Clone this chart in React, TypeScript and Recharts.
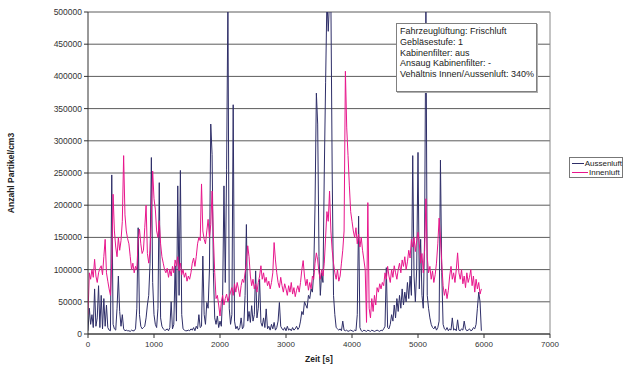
import { LineChart, Line, XAxis, YAxis, CartesianGrid, Legend, Label, ReferenceLine } from "recharts";

// sample spacing of the readings in seconds
const STEP = 20;

// particle counts in thousands per cm3, every 20 s
const aussenluftK = [
  5, 40, 15, 30, 10, 70, 12, 25, 75, 10,
  60, 8, 55, 12, 45, 10, 6, 5, 247, 15,
  8, 6, 40, 90, 35, 12, 30, 8, 5, 6,
  5, 5, 4, 6, 5, 5, 8, 40, 165, 30,
  12, 8, 10, 12, 25, 45, 60, 110, 274, 80,
  30, 15, 10, 40, 235, 25, 12, 8, 6, 6,
  8, 5, 10, 50, 8, 15, 106, 20, 230, 60,
  254, 30, 8, 6, 5, 5, 6, 5, 8, 6,
  10, 5, 12, 8, 30, 10, 12, 121, 30, 15,
  49, 40, 100, 326, 279, 95, 25, 15, 28, 10,
  20, 12, 60, 230, 80, 256, 520, 40, 15, 30,
  356, 20, 8, 12, 6, 10, 25, 8, 12, 60,
  170, 20, 35, 18, 44, 20, 30, 98, 25, 40,
  85, 18, 12, 25, 10, 39, 8, 12, 6, 15,
  8, 18, 6, 10, 20, 49, 12, 8, 6, 10,
  5, 12, 6, 8, 5, 10, 6, 8, 12, 7,
  10, 20, 35, 30, 50, 45, 40, 60, 55, 70,
  65, 95, 200, 374, 326, 120, 60, 95, 80, 250,
  390, 520, 470, 520, 520, 250, 60, 30, 10, 8,
  6, 8, 5, 20, 6, 5, 6, 4, 5, 6,
  5, 4, 6, 5, 30, 183, 10, 5, 4, 6,
  5, 4, 6, 5, 4, 6, 5, 4, 5, 6,
  5, 4, 6, 5, 8, 12, 103, 10, 8, 15,
  30, 20, 45, 25, 55, 35, 60, 40, 70, 45,
  65, 50, 80, 55, 90, 60, 277, 90, 50, 100,
  282, 70, 147, 60, 40, 150, 520, 60, 40, 25,
  15, 10, 8, 12, 6, 10, 20, 270, 95, 15,
  8, 6, 10, 5, 8, 6, 25, 6, 8, 5,
  22, 6, 5, 8, 6, 20, 8, 5, 6, 8,
  5, 6, 10, 8, 15, 40, 65, 50, 5,
];

const innenluftK = [
  30, 95, 85, 100, 88, 116, 90, 80, 95, 102,
  106, 92, 120, 147, 95, 82, 70, 60, 110, 217,
  160, 135, 120, 150, 130, 145, 175, 277, 185, 160,
  148, 140, 120, 100, 110, 95, 105, 100, 145, 163,
  140, 125, 130, 165, 200, 125, 110, 130, 180, 253,
  210, 194, 160, 150, 176, 140, 120, 110, 100, 95,
  102, 88, 100, 90, 105, 95, 115, 105, 120, 98,
  110, 92, 100, 88, 95, 82, 90, 85, 95, 110,
  118, 105, 120, 140, 150, 145, 233, 160, 147, 140,
  160, 178, 150, 170, 222, 150, 95, 55, 60, 45,
  28, 50, 60, 45, 55, 62, 50, 58, 65, 72,
  60, 78, 65, 80, 70, 58, 75, 85, 80, 95,
  110, 137, 120, 90, 75, 85, 70, 78, 65, 80,
  90, 106, 85, 95, 80, 88, 75, 82, 70, 80,
  95, 142, 115, 95, 80, 72, 88, 75, 65, 78,
  70, 60, 75, 65, 80, 62, 72, 58, 68, 75,
  65, 80, 100, 114, 90, 75, 85, 68, 80, 70,
  90, 85, 110, 126, 115, 95, 85, 100, 90, 110,
  150, 190, 175, 222, 160, 130, 110, 95, 85, 100,
  82, 90, 110, 130, 160, 408, 320, 277, 230, 190,
  175, 160, 150, 165, 140, 155, 135, 150, 130, 115,
  100, 18, 204, 40, 25, 55, 35, 60, 45, 72,
  65, 78, 70, 80, 75, 95, 85, 105, 90, 80,
  100, 88, 106, 95, 85, 100, 110, 95, 115, 105,
  120, 100, 112, 130, 118, 147, 135, 150, 128, 145,
  158, 140, 110, 125, 95, 130, 210, 120, 95, 105,
  85, 98, 80, 92, 110, 140, 180, 150, 110, 75,
  60, 70, 55, 68, 90, 105, 85, 95, 80, 100,
  126, 95, 85, 100, 78, 90, 72, 95, 80, 88,
  100, 75, 90, 65, 85, 70, 80, 62, 70,
];

const xTicks = [0, 1000, 2000, 3000, 4000, 5000, 6000, 7000];
const yTicks = [0, 50000, 100000, 150000, 200000, 250000, 300000, 350000, 400000, 450000, 500000];

const noteLines = [
  "Fahrzeuglüftung: Frischluft",
  "Gebläsestufe: 1",
  "Kabinenfilter: aus",
  "Ansaug Kabinenfilter: -",
  "Vehältnis Innen/Aussenluft: 340%",
];

const BLUE = "#2e2e68";
const PINK = "#e8168c";

const rows = aussenluftK.map((a, idx) => ({
  t: idx * STEP,
  aussenluft: a * 1000,
  innenluft: innenluftK[idx] * 1000,
}));

const LegendBox = () => (
  <div
    style={{
      width: 54,
      height: 21,
      boxSizing: "border-box",
      border: "1px solid #777",
      background: "#fff",
      fontSize: 8,
      lineHeight: "9px",
      padding: "1px 0 0 2px",
      color: "#222",
    }}
  >
    {[
      { name: "Aussenluft", color: BLUE },
      { name: "Innenluft", color: PINK },
    ].map((it) => (
      <div key={it.name} style={{ display: "flex", alignItems: "center", height: 9 }}>
        <span style={{ width: 16, height: 0, borderTop: `1px solid ${it.color}`, marginRight: 1 }} />
        <span>{it.name}</span>
      </div>
    ))}
  </div>
);

export default function App() {
  return (
    <div
      style={{
        position: "absolute",
        left: 0,
        top: 0,
        width: 629,
        height: 365,
        background: "#fff",
        fontFamily: '"Liberation Sans", Arial, sans-serif',
      }}
    >
      <LineChart width={629} height={365} data={rows} margin={{ top: 12, right: 79, bottom: 0, left: 0 }}>
        <CartesianGrid vertical={false} stroke="#5c5c5c" />
        <XAxis
          type="number"
          dataKey="t"
          domain={[0, 7000]}
          ticks={xTicks}
          interval={0}
          height={31}
          tickSize={4}
          tickMargin={3}
          stroke="#333"
          tick={{ fontSize: 8, fill: "#333" }}
          allowDataOverflow
        >
          <Label
            value="Zeit [s]"
            position="insideBottom"
            offset={3}
            style={{ fontSize: 8.5, fontWeight: "bold", fill: "#222" }}
          />
        </XAxis>
        <YAxis
          type="number"
          domain={[0, 500000]}
          ticks={yTicks}
          interval={0}
          width={88}
          tickSize={4}
          tickMargin={2}
          stroke="#333"
          tick={{ fontSize: 8.5, fill: "#333" }}
          tickFormatter={(v) => String(v)}
          allowDataOverflow
        >
          <Label
            content={() => (
              <text
                x={11}
                y={173}
                transform="rotate(-90 11 173)"
                textAnchor="middle"
                dominantBaseline="central"
                style={{ fontSize: 8.5, fontWeight: "bold", fill: "#222" }}
              >
                Anzahl Partikel/cm3
              </text>
            )}
          />
        </YAxis>
        <ReferenceLine x={7000} stroke="#888" />
        <Line
          type="linear"
          dataKey="aussenluft"
          name="Aussenluft"
          stroke={BLUE}
          strokeWidth={1}
          dot={false}
          isAnimationActive={false}
        />
        <Line
          type="linear"
          dataKey="innenluft"
          name="Innenluft"
          stroke={PINK}
          strokeWidth={1}
          dot={false}
          isAnimationActive={false}
        />
        <Legend
          layout="vertical"
          align="center"
          verticalAlign="middle"
          content={() => <LegendBox />}
          wrapperStyle={{ left: 569, top: 157, width: 54, height: 21 }}
        />
      </LineChart>
      <div
        style={{
          position: "absolute",
          left: 396,
          top: 23,
          width: 141,
          height: 69,
          boxSizing: "border-box",
          border: "1px solid #808080",
          boxShadow: "1px 1px 0 #b0b0b0",
          background: "#fff",
          fontSize: 9,
          lineHeight: "10.8px",
          padding: "2px 0 0 3px",
          color: "#222",
          zIndex: 1,
        }}
      >
        {noteLines.map((l) => (
          <div key={l} style={{ whiteSpace: "nowrap" }}>
            {l}
          </div>
        ))}
      </div>
    </div>
  );
}
